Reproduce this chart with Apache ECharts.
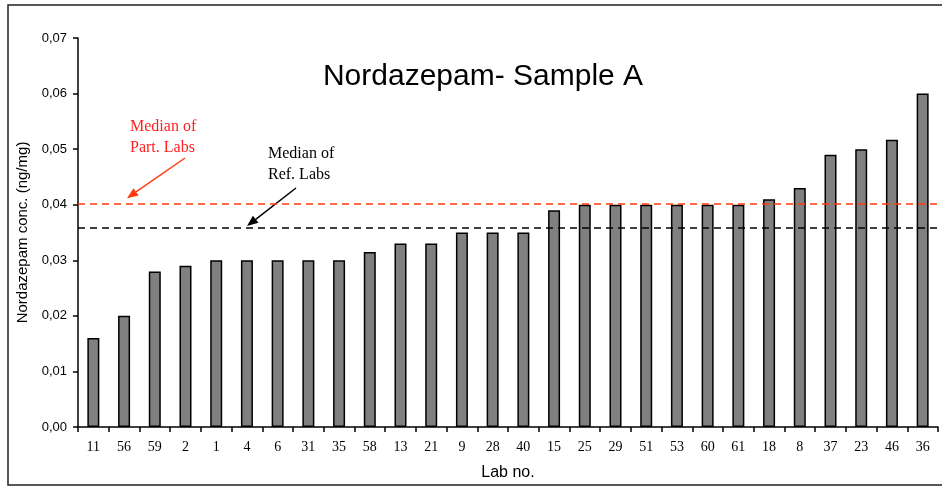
<!DOCTYPE html>
<html>
<head>
<meta charset="utf-8">
<script src="https://cdn.jsdelivr.net/npm/echarts@6/dist/echarts.min.js"></script>
<style>
html,body{margin:0;padding:0;background:#fff;}
#chart{width:942px;height:488px;}
</style>
</head>
<body>
<div id="chart"></div>
<script>
var labs = ['11','56','59','2','1','4','6','31','35','58','13','21','9','28','40','15','25','29','51','53','60','61','18','8','37','23','46','36'];
var conc = [0.016,0.020,0.028,0.029,0.030,0.030,0.030,0.030,0.030,0.0315,0.033,0.033,0.035,0.035,0.035,0.039,0.040,0.040,0.040,0.040,0.040,0.040,0.041,0.043,0.049,0.050,0.0517,0.060];
var medianPart = 0.0401;
var medianRef = 0.0358;
var yTicks = [0, 0.07, 0.01];

var chart = echarts.init(document.getElementById('chart'), null, {renderer:'canvas'});
var option = {
  animation: false,
  backgroundColor: '#fff',
  title: {
    text: 'Nordazepam- Sample A',
    left: 478, top: 57, textAlign: 'center',
    textStyle: {fontFamily: 'Liberation Sans', fontSize: 30, fontWeight: 'normal', color: '#000'}
  },
  grid: {left: 78, right: 4, top: 38, bottom: 61},
  xAxis: {
    type: 'category',
    data: labs,
    name: 'Lab no.',
    nameLocation: 'middle',
    nameGap: 38,
    nameTextStyle: {fontFamily: 'Liberation Sans', fontSize: 16, color: '#000'},
    axisLine: {lineStyle: {color: '#000', width: 1.5}},
    axisTick: {show: true, alignWithLabel: false, length: 5, lineStyle: {color: '#000', width: 1.5}},
    axisLabel: {fontFamily: 'Liberation Serif', fontSize: 14, color: '#000', margin: 13, interval: 0}
  },
  yAxis: {
    type: 'value',
    min: yTicks[0], max: yTicks[1], interval: yTicks[2],
    name: 'Nordazepam conc. (ng/mg)',
    nameLocation: 'middle',
    nameGap: 44,
    nameTextStyle: {fontFamily: 'Liberation Sans', fontSize: 15, color: '#000'},
    axisLine: {show: true, lineStyle: {color: '#000', width: 1.5}},
    axisTick: {show: true, length: 5, lineStyle: {color: '#000', width: 1.5}},
    splitLine: {show: false},
    axisLabel: {
      fontFamily: 'Liberation Sans', fontSize: 13, color: '#000', margin: 11,
      formatter: function(v){ return v.toFixed(2).replace('.', ','); }
    }
  },
  series: [{
    type: 'bar',
    data: conc,
    barWidth: 12,
    itemStyle: {color: '#808080', borderColor: '#000', borderWidth: 1.5},
    markLine: {
      silent: true,
      precision: 5,
      symbol: ['none','none'],
      label: {show: false},
      data: [
        {yAxis: medianPart, lineStyle: {color: '#ff3a10', type: [7,5], width: 1.5}},
        {yAxis: medianRef, lineStyle: {color: '#000', type: [7,5], width: 1.5}}
      ]
    }
  }]
};
chart.setOption(option);

function arrow(x1,y1,x2,y2,color){
  var ang = Math.atan2(y2-y1, x2-x1);
  var L = 11, W = 4.5;
  var bx = x2 - L*Math.cos(ang), by = y2 - L*Math.sin(ang);
  var px = -Math.sin(ang)*W, py = Math.cos(ang)*W;
  return [
    {type:'line', shape:{x1:x1,y1:y1,x2:bx,y2:by}, style:{stroke:color, lineWidth:1.5}},
    {type:'polygon', shape:{points:[[x2,y2],[bx+px,by+py],[bx-px,by-py]]}, style:{fill:color}}
  ];
}
var yPart = chart.convertToPixel({yAxisIndex:0}, medianPart);
var yRef = chart.convertToPixel({yAxisIndex:0}, medianRef);
var g = [
  {type:'rect', shape:{x:8, y:5, width:950, height:480}, style:{fill:'none', stroke:'#222', lineWidth:1.5}, z:-1},
  {type:'text', left:130, top:116, style:{text:'Median of\nPart. Labs', fill:'#ff2020', font:'16px "Liberation Serif"', lineHeight:21}},
  {type:'text', left:268, top:143, style:{text:'Median of\nRef. Labs', fill:'#000', font:'16px "Liberation Serif"', lineHeight:21}}
];
g = g.concat(arrow(185,158,127,yPart-6,'#ff3a10'));
g = g.concat(arrow(296,188,247,yRef-2,'#000'));
chart.setOption({graphic: g});
</script>
</body>
</html>
